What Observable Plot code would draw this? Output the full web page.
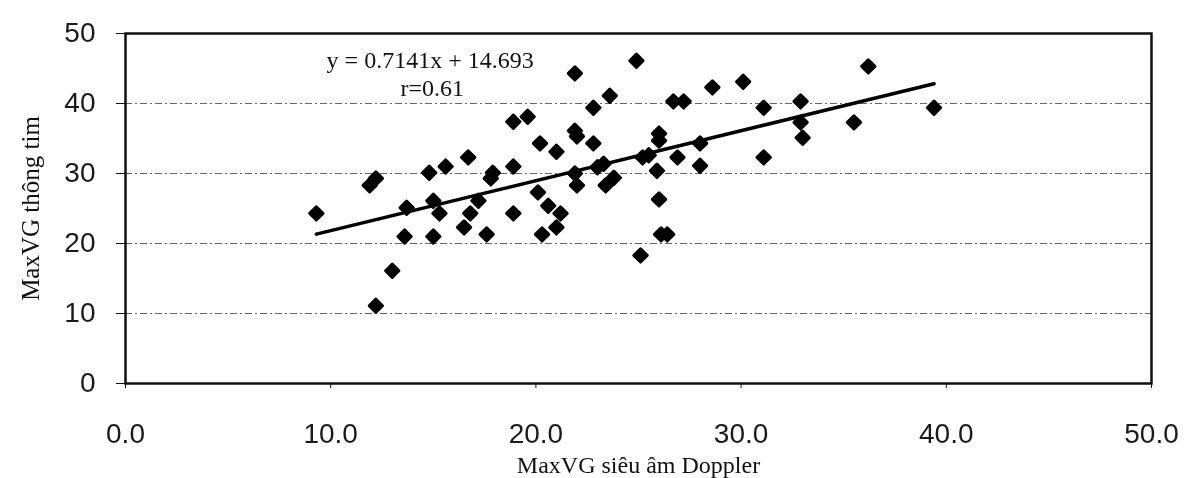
<!DOCTYPE html>
<html>
<head>
<meta charset="utf-8">
<script src="https://cdn.jsdelivr.net/npm/d3@7"></script>
<script src="https://cdn.jsdelivr.net/npm/@observablehq/plot@0.6"></script>
<style>
  html, body { margin: 0; padding: 0; background: #fff; }
  #chart svg { display: block; filter: blur(0.5px); }
</style>
</head>
<body>
<div id="chart"></div>
<script>
// MaxVG measured by Doppler ultrasound (x) vs. by cardiac catheterisation (y)
const dopplerMaxVG = [
  9.3, 11.9, 12.2, 12.2, 13.0, 13.7, 13.6, 14.8, 15.6, 16.7,
  15.0, 15.3, 15.0, 17.2, 16.8, 16.5, 17.6, 17.9, 17.8, 18.9,
  18.9, 19.6, 18.9, 20.1, 20.2, 21.0, 20.6, 21.2, 21.0, 20.3,
  21.9, 21.9, 22.0, 21.9, 22.0, 22.8, 22.8, 23.0, 23.3, 23.8,
  23.4, 23.6, 24.9, 25.1, 25.2, 25.5, 26.0, 26.0, 25.9, 26.0,
  26.1, 26.4, 26.7, 27.2, 26.9, 28.0, 28.0, 28.6, 30.1, 31.1,
  31.1, 32.9, 32.9, 33.0, 35.5, 36.2, 39.4
];
const catheterMaxVG = [
  24.3, 28.3, 29.3, 11.1, 16.1, 25.1, 21.0, 30.1, 31.0, 32.3,
  26.1, 24.3, 21.0, 26.1, 24.3, 22.3, 21.3, 30.1, 29.3, 31.0,
  37.4, 38.1, 24.3, 27.3, 34.3, 33.1, 25.4, 24.3, 22.3, 21.3,
  44.3, 36.1, 35.3, 30.0, 28.3, 39.4, 34.3, 30.9, 31.4, 29.4,
  28.3, 41.1, 46.1, 18.3, 32.3, 32.6, 35.7, 34.7, 30.4, 26.3,
  21.3, 21.3, 40.3, 40.3, 32.3, 34.3, 31.1, 42.3, 43.1, 39.4,
  32.3, 40.3, 37.3, 35.1, 37.3, 45.3, 39.4
];

// Fitted regression line and correlation shown on the chart
const slope = 0.7141;
const intercept = 14.693;
const equationLabels = ["y = 0.7141x + 14.693", "r=0.61"];

const xTicks = [0, 10, 20, 30, 40, 50];
const yTicks = [0, 10, 20, 30, 40, 50];
const gridTicks = [10, 20, 30, 40];
const xTitle = "MaxVG siêu âm Doppler";
const yTitle = "MaxVG thông tim";

const points = dopplerMaxVG.map((x, i) => ({x, y: catheterMaxVG[i]}));
const xMin = d3.min(dopplerMaxVG);
const xMax = d3.max(dopplerMaxVG);
const fitLine = [xMin, xMax].map(x => ({x, y: slope * x + intercept}));

const serif = "'Liberation Serif', 'DejaVu Serif', serif";

const chart = Plot.plot({
  width: 1187,
  height: 478,
  marginLeft: 125,
  marginRight: 36,
  marginTop: 33,
  marginBottom: 95,
  style: {fontFamily: "'Liberation Sans', Arial, sans-serif", color: "#1a1a1a", background: "#fff"},
  x: {domain: [0, 50]},
  y: {domain: [0, 50]},
  marks: [
    Plot.ruleY(gridTicks, {stroke: "#666", strokeWidth: 1.2, strokeDasharray: "7,3,2,3"}),
    Plot.frame({stroke: "#111", strokeWidth: 2.5}),
    Plot.axisY({
      ticks: yTicks, tickSize: 9, tickPadding: 21, fontSize: 28,
      tickFormat: d3.format("d"), label: null, stroke: "#111"
    }),
    Plot.axisX({
      ticks: xTicks, tickSize: 5, tickPadding: 35, fontSize: 28,
      tickFormat: d3.format(".1f"), label: null, stroke: "#111"
    }),
    Plot.line(fitLine, {x: "x", y: "y", stroke: "#000", strokeWidth: 3.5}),
    Plot.dot(points, {
      x: "x", y: "y", symbol: "diamond2", r: 6,
      fill: "#000", stroke: "#000", strokeWidth: 3, strokeLinejoin: "round"
    }),
    Plot.text([equationLabels[0]], {
      x: 9.8, y: 46.2, text: d => d, textAnchor: "start",
      fontFamily: serif, fontSize: 24, fill: "#111"
    }),
    Plot.text([equationLabels[1]], {
      x: 13.4, y: 42.1, text: d => d, textAnchor: "start",
      fontFamily: serif, fontSize: 24, fill: "#111"
    }),
    Plot.text([xTitle], {
      frameAnchor: "bottom", dy: 89, text: d => d, lineAnchor: "bottom",
      fontFamily: serif, fontSize: 24, fill: "#111"
    }),
    Plot.text([yTitle], {
      frameAnchor: "left", dx: -95, rotate: -90, text: d => d,
      textAnchor: "middle", fontFamily: serif, fontSize: 25, fill: "#111"
    })
  ]
});

document.getElementById("chart").appendChild(chart);
</script>
</body>
</html>
